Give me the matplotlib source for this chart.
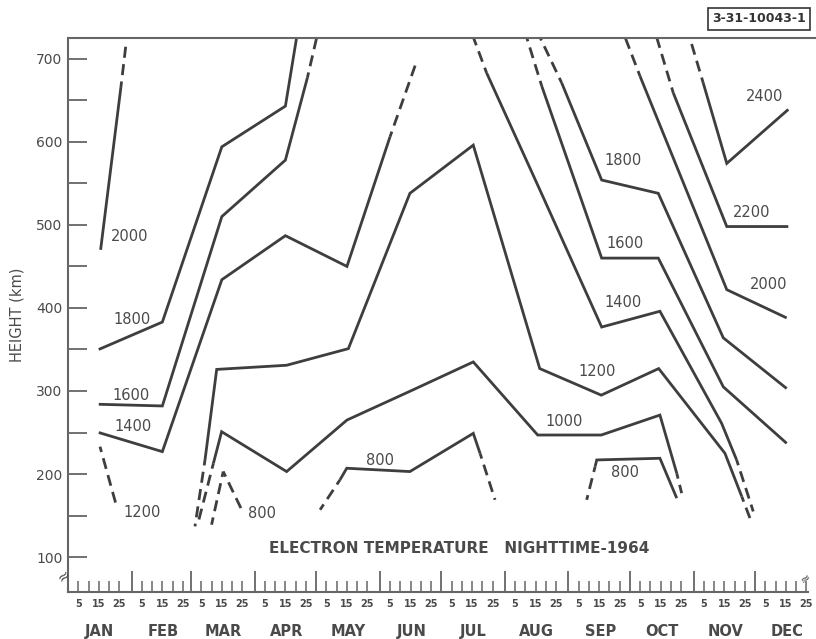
import matplotlib
matplotlib.use("Agg")
from matplotlib import pyplot as plt
from matplotlib.ticker import FixedLocator, FixedFormatter

# month layout of 1964 (leap year), x = days since Jan 1
MONTHS = ["JAN", "FEB", "MAR", "APR", "MAY", "JUN",
          "JUL", "AUG", "SEP", "OCT", "NOV", "DEC"]
MONTH_START = [0, 31, 60, 91, 121, 152, 182, 213, 244, 274, 305, 335]
DAY_TICKS = [5, 10, 15, 20, 25]
DAY_LABELS = ["5", "", "15", "", "25"]

# isotherms, (day, height km); solid parts and dashed extrapolations
T2000_JAN = [(15.9, 470), (25.8, 666)]
T2000_JAN_DASH = [(25.8, 666), (28.3, 718)]

T1800_L = [(15, 350), (46, 383), (75, 594), (106, 643), (111.5, 726)]

T1600_L = [(15, 284), (46, 282), (75, 510), (106, 578), (116.7, 677)]
T1600_L_DASH = [(116.7, 677), (121.3, 726)]

T1400_L = [(15, 250), (46, 227), (75, 434), (106, 487), (136, 450), (157, 606)]
T1400_L_DASH = [(157, 606), (170, 697)]

T1200_JAN_DASH = [(15.6, 233), (23.7, 161)]

T1200 = [(66.8, 217), (72.5, 326), (106.6, 331), (136.7, 351), (166.7, 538),
         (197.6, 596), (230, 327), (260, 295), (288, 327), (320.3, 225),
         (328.5, 173)]
T1200_DASH_A = [(66.8, 217), (61.9, 137)]
T1200_DASH_B = [(328.5, 173), (333.4, 141)]

T1000 = [(70.9, 213), (74.9, 251), (106.6, 203), (136, 265), (167, 300),
         (197.6, 335), (229, 247), (260, 247), (288.6, 271), (296.8, 201)]
T1000_DASH_A = [(70.9, 213), (63.8, 145)]
T1000_DASH_B = [(296.8, 201), (299.2, 177)]

T800_MAR_DASH_A = [(75.7, 203), (70, 139)]
T800_MAR_DASH_B = [(75.7, 203), (84.7, 157)]

T800_JUN = [(132.6, 193), (135.9, 207), (166.7, 203), (197.6, 249), (200.9, 225)]
T800_JUN_DASH_A = [(132.6, 193), (122.9, 157)]
T800_JUN_DASH_B = [(200.9, 225), (208.2, 169)]

T800_SEP = [(257, 209), (257.8, 217), (288.6, 219), (296.8, 171)]
T800_SEP_DASH = [(257, 209), (252.9, 169)]

T1400_R = [(204.1, 683), (230.1, 542), (260.2, 377), (288.6, 396),
           (318.7, 261), (326, 217)]
T1400_R_DASH_A = [(204.1, 683), (197.6, 726)]
T1400_R_DASH_B = [(326, 217), (334.1, 155)]

T1600_R = [(231, 667), (260.2, 460), (287.8, 460), (319.5, 305), (350.4, 237)]
T1600_R_DASH = [(231, 667), (223.6, 726)]

T1800_R = [(240.7, 671), (260.2, 554), (287.8, 538), (319.5, 364), (350.4, 303)]
T1800_R_DASH = [(240.7, 671), (230.1, 726)]

T2000_R = [(278.9, 679), (321.2, 422), (350.4, 388)]
T2000_R_DASH = [(278.9, 679), (271.6, 726)]

T2200 = [(295.1, 659), (321.2, 498), (351.2, 498)]
T2200_DASH = [(295.1, 659), (287, 726)]

T2400 = [(309.7, 671), (321.2, 574), (351.2, 639)]
T2400_DASH = [(309.7, 671), (303.3, 724)]

SOLID = [T2000_JAN, T1800_L, T1600_L, T1400_L, T1200, T1000, T800_JUN,
         T800_SEP, T1400_R, T1600_R, T1800_R, T2000_R, T2200, T2400]
DASHED = [T2000_JAN_DASH, T1600_L_DASH, T1400_L_DASH, T1200_JAN_DASH,
          T1200_DASH_A, T1200_DASH_B, T1000_DASH_A, T1000_DASH_B,
          T800_MAR_DASH_A, T800_MAR_DASH_B, T800_JUN_DASH_A, T800_JUN_DASH_B,
          T800_SEP_DASH, T1400_R_DASH_A, T1400_R_DASH_B, T1600_R_DASH,
          T1800_R_DASH, T2000_R_DASH, T2200_DASH, T2400_DASH]

# contour labels: text, day, height
LABELS = [("2000", 30.1, 486), ("1800", 31, 386), ("1600", 30.9, 295),
          ("1400", 31.8, 257), ("1200", 35.9, 154), ("800", 94.8, 153),
          ("800", 152.1, 216), ("1000", 241.9, 263), ("1200", 258.2, 323),
          ("800", 271.6, 202), ("1400", 270.7, 406), ("1600", 271.6, 478),
          ("1800", 270.4, 578), ("2200", 333.3, 515), ("2400", 339.8, 655),
          ("2000", 341.4, 428)]

LINE = "#3e3e3e"
TEXT = "#4a4a4a"
AXC = "#666666"

fig = plt.figure(figsize=(8.16, 6.39), dpi=100)
ax = fig.add_axes([68 / 816, 1 - 592 / 639, 748 / 816, 554 / 639])

for pts in SOLID:
    ax.plot([p[0] for p in pts], [p[1] for p in pts], color=LINE, lw=2.0,
            solid_capstyle="butt", solid_joinstyle="miter")
for pts in DASHED:
    ax.plot([p[0] for p in pts], [p[1] for p in pts], color=LINE, lw=2.0,
            linestyle=(2.0, (4.0, 2.3)), dash_capstyle="butt")

for txt, d, h in LABELS:
    ax.text(d, h, txt, ha="center", va="center", fontsize=10.5, color=TEXT)

ax.text(190.6, 110, "ELECTRON TEMPERATURE   NIGHTTIME-1964", ha="center",
        va="center", fontsize=11, fontweight="bold", color=TEXT)

ax.set_xlim(0, 364.7)
ax.set_ylim(58, 725)

# y axis: ticks every 50 km, pointing inward
ax.yaxis.set_major_locator(FixedLocator(range(100, 701, 100)))
ax.yaxis.set_minor_locator(FixedLocator(range(150, 700, 100)))
ax.tick_params(axis="y", which="both", direction="in", length=14, width=1.3,
               color=AXC, labelcolor=TEXT, labelsize=10, pad=4)
ax.set_ylabel("HEIGHT (km)", fontsize=10.5, color=TEXT, labelpad=8)

# x axis: month boundaries tall, day ticks short
ax.xaxis.set_major_locator(FixedLocator(MONTH_START))
ax.xaxis.set_major_formatter(FixedFormatter([""] * 12))
minor = [m + d for m in MONTH_START for d in DAY_TICKS]
ax.xaxis.set_minor_locator(FixedLocator(minor))
ax.xaxis.set_minor_formatter(FixedFormatter(DAY_LABELS * 12))
ax.tick_params(axis="x", which="major", direction="in", length=15, width=1.3,
               color=AXC)
ax.tick_params(axis="x", which="minor", direction="in", length=8, width=1.1,
               color=AXC, labelsize=7, labelcolor=TEXT, pad=5)
for lab in ax.xaxis.get_minorticklabels():
    lab.set_fontweight("bold")

for m, name in zip(MONTH_START, MONTHS):
    ax.text(m + 15.5, -0.072, name, transform=ax.get_xaxis_transform(),
            ha="center", va="center", fontsize=10.5, fontweight="bold",
            color=TEXT)

for side in ["left", "top", "bottom"]:
    ax.spines[side].set_color(AXC)
    ax.spines[side].set_linewidth(1.5)
ax.spines["right"].set_visible(False)
ax.spines["bottom"].set_bounds(0, 361)

# axis break marks
fig.text(64 / 816, 1 - 576 / 639, "≈", fontsize=11, color=TEXT, rotation=40,
         ha="center", va="center")
fig.text(806 / 816, 1 - 578 / 639, "≈", fontsize=9, color=TEXT, rotation=40,
         ha="center", va="center")

# drawing number box
fig.text(759 / 816, 1 - 19 / 639, "3-31-10043-1", fontsize=9, fontweight="bold",
         color="#333333", ha="center", va="center",
         bbox=dict(boxstyle="square,pad=0.35", fc="white", ec="#333333", lw=1.2))

fig.savefig("out.png", dpi=100)
